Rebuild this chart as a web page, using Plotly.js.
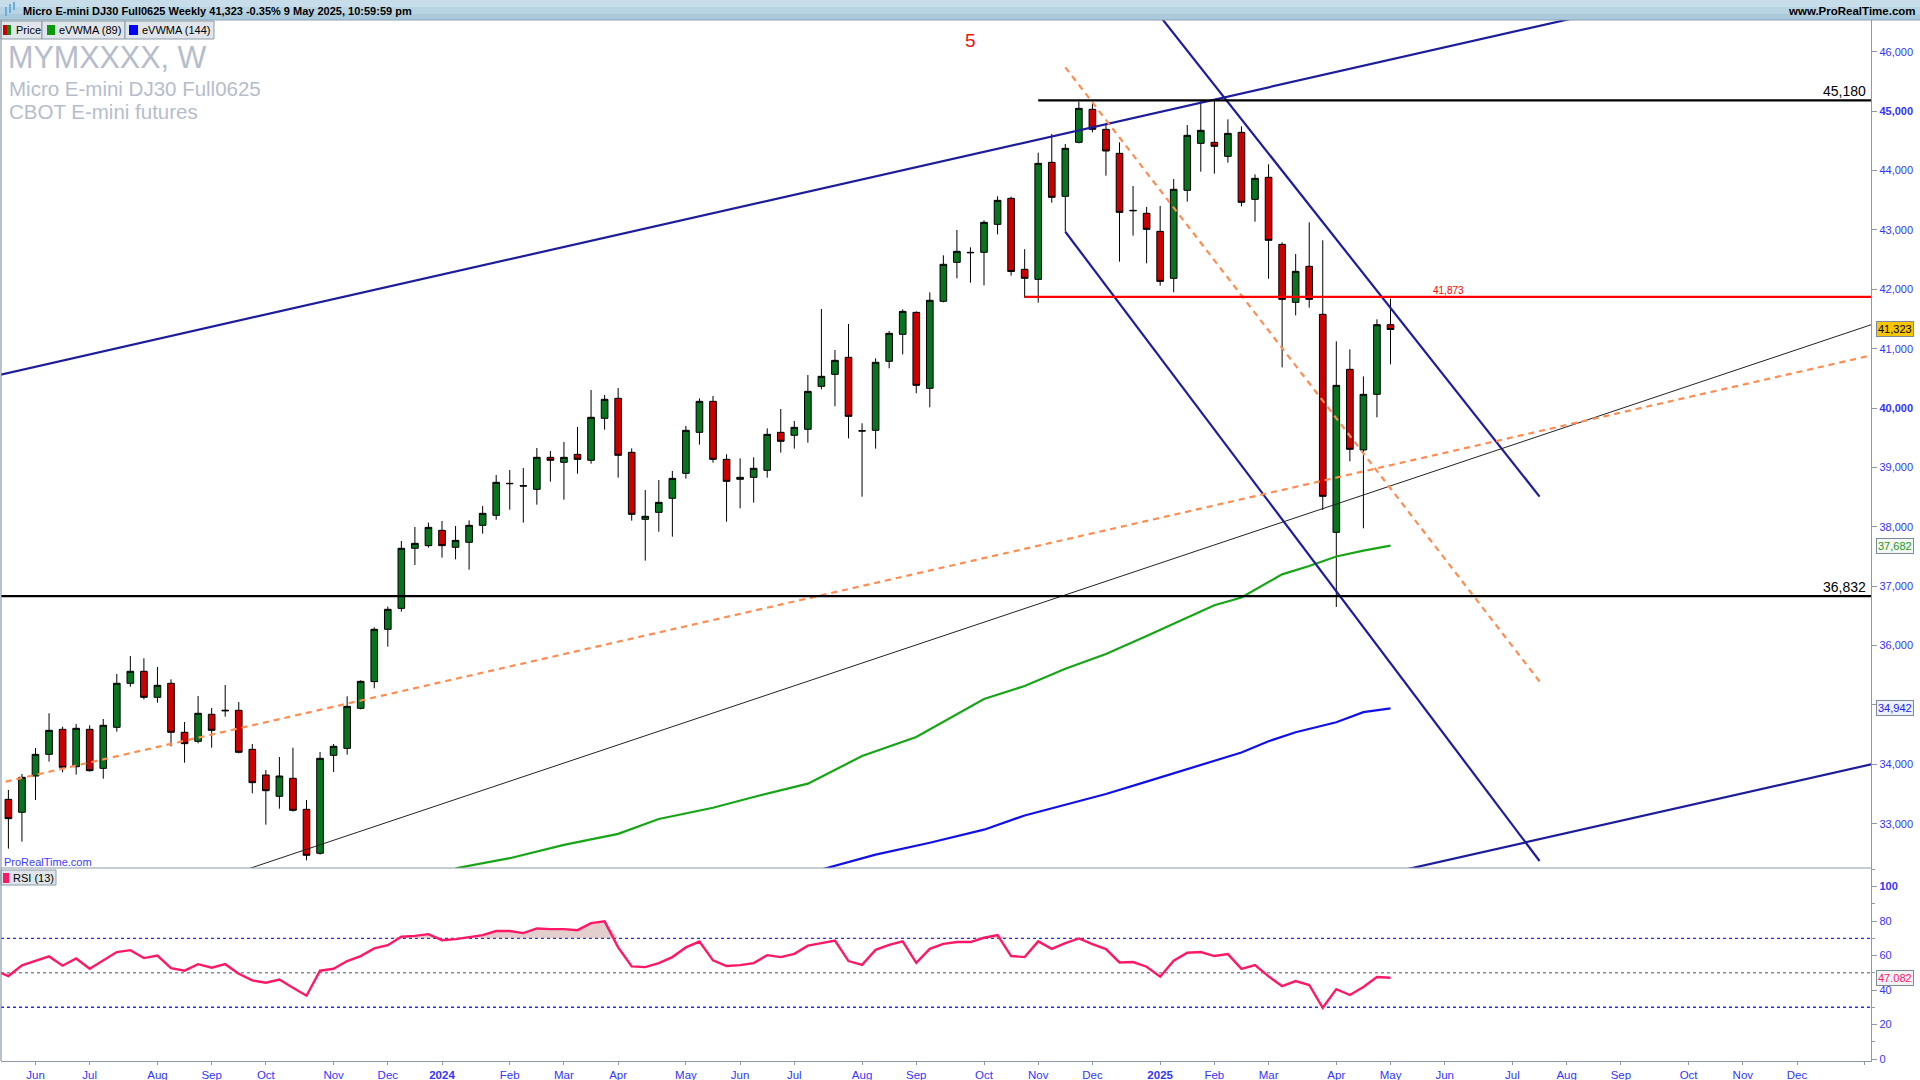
<!DOCTYPE html>
<html><head><meta charset="utf-8">
<script src="https://cdn.plot.ly/plotly-3.0.1.min.js"></script>
<style>html,body{margin:0;padding:0;background:#fff;}#chart{width:1920px;height:1080px;}</style>
</head><body><div id="chart"></div>
<script>
// ---------- DATA ----------
const weeks = ['2023-05-22','2023-05-29','2023-06-05','2023-06-12','2023-06-19','2023-06-26','2023-07-03','2023-07-10','2023-07-17','2023-07-24','2023-07-31','2023-08-07','2023-08-14','2023-08-21','2023-08-28','2023-09-04','2023-09-11','2023-09-18','2023-09-25','2023-10-02','2023-10-09','2023-10-16','2023-10-23','2023-10-30','2023-11-06','2023-11-13','2023-11-20','2023-11-27','2023-12-04','2023-12-11','2023-12-18','2023-12-25','2024-01-01','2024-01-08','2024-01-15','2024-01-22','2024-01-29','2024-02-05','2024-02-12','2024-02-19','2024-02-26','2024-03-04','2024-03-11','2024-03-18','2024-03-25','2024-04-01','2024-04-08','2024-04-15','2024-04-22','2024-04-29','2024-05-06','2024-05-13','2024-05-20','2024-05-27','2024-06-03','2024-06-10','2024-06-17','2024-06-24','2024-07-01','2024-07-08','2024-07-15','2024-07-22','2024-07-29','2024-08-05','2024-08-12','2024-08-19','2024-08-26','2024-09-02','2024-09-09','2024-09-16','2024-09-23','2024-09-30','2024-10-07','2024-10-14','2024-10-21','2024-10-28','2024-11-04','2024-11-11','2024-11-18','2024-11-25','2024-12-02','2024-12-09','2024-12-16','2024-12-23','2024-12-30','2025-01-06','2025-01-13','2025-01-20','2025-01-27','2025-02-03','2025-02-10','2025-02-17','2025-02-24','2025-03-03','2025-03-10','2025-03-17','2025-03-24','2025-03-31','2025-04-07','2025-04-14','2025-04-21','2025-04-28','2025-05-05'];

const open = [33411,33193,33804,34169,34590,33961,34590,33933,34624,35365,
35567,35129,35365,34540,34388,34843,34900,34910,34253,33821,
33462,33765,33243,32503,34152,34270,34944,35393,36274,36627,
37638,37683,37941,37655,37739,38025,38193,38732,38693,38631,
39170,39086,39220,39120,39827,40163,39254,38126,38244,38480,
38900,39591,40113,39136,38800,38833,38951,39591,39541,39642,
40365,40567,40854,39619,39625,40787,41241,41611,40332,41797,
42453,42622,42622,43093,43531,42336,42167,44137,43565,44474,
45030,44693,44289,43329,43279,42975,42184,43666,44457,44474,
44238,44642,43514,43885,42756,41780,42386,41578,37907,40652,
39294,40231,41404];
const high = [33569,33838,34276,34860,34635,34680,34658,34764,35522,35825,
35786,35640,35432,34714,35151,34949,35337,35050,34343,33905,
34124,34281,33400,34208,34343,35146,35415,36307,36656,37761,
37997,38070,38098,38014,38109,38350,38872,38957,38990,39327,
39277,39428,39681,40304,40220,40337,39321,38620,38788,38940,
39698,40163,40203,39221,39153,39170,39658,39984,39782,40556,
41668,40977,41415,39743,40837,41297,41662,41628,41948,42571,
42998,42706,43161,43565,43559,42675,44300,44614,44446,45159,
45119,44794,44474,43739,43385,43402,43857,44766,45180,45175,
44861,44743,43935,44104,42790,42594,43127,42824,41123,40988,
40534,41494,41842];
const low = [32581,32699,33400,34046,33866,33827,33877,33759,34551,35308,
35095,35039,34303,34029,34354,34281,34803,34186,33513,32985,
33254,33204,32384,32480,33872,34164,34927,35281,35982,36571,
37357,37649,37481,37453,37279,37885,38120,38289,38070,38373,
38760,38457,38895,39063,39636,38828,38104,37430,37918,37834,
38811,39383,39080,38087,38311,38407,38828,39249,39316,39417,
40315,40029,39490,38508,39316,40669,40904,40248,40012,41780,
42184,42111,42066,42925,42229,41858,41774,43458,42970,44457,
44642,43913,42465,42902,42437,42060,41948,43475,43980,43946,
44132,43396,43138,42178,40685,41561,41690,38283,36650,39103,
37975,39844,40736];
const close = [33086,33782,34169,34573,33950,34607,33894,34658,35365,35567,
35129,35331,34540,34349,34860,34573,34910,34203,33692,33557,
33804,33226,32469,34102,34304,34977,35398,36274,36611,37638,
37722,37991,37683,37772,38025,38227,38749,38727,38687,39170,
39120,39170,39136,39844,40147,39204,38210,38177,38412,38816,
39625,40113,39136,38766,38833,38985,39557,39440,39675,40281,
40534,40803,39860,39613,40770,41258,41628,40382,41814,42420,
42639,42616,43127,43497,42299,42184,44120,43548,44373,45046,
44693,44328,43295,43323,43009,42133,43683,44592,44676,44407,
44625,43464,43868,42824,41830,42302,41830,38513,40382,39305,
40231,41404,41323];

const rsiWeeks = ['2023-05-15'].concat(weeks);
const rsi = [51.4,48.1,54.3,56.8,59.5,54.1,58.3,52.3,57.1,62.0,
63.1,58.5,60.0,52.7,51.2,55.0,52.9,55.0,49.4,45.6,
44.2,46.1,41.3,36.7,51.2,52.3,56.8,59.7,64.1,66.0,
70.9,71.4,72.4,68.9,69.5,70.7,71.8,74.2,74.2,73.0,
75.7,75.3,75.3,74.7,78.8,79.8,64.7,53.7,53.3,55.6,
59.1,64.7,68.1,57.2,53.9,54.4,55.6,60.2,59.1,61.0,
65.7,67.2,68.7,56.8,54.6,63.3,66.2,68.2,55.8,63.9,
66.8,67.8,67.8,70.3,71.8,59.7,59.1,68.2,63.9,67.2,
69.9,66.6,63.7,56.0,56.2,53.5,47.7,57.0,61.6,62.0,
59.7,60.8,52.3,54.4,47.9,42.3,45.2,42.9,29.7,40.5,
37.1,41.7,47.5,47.082];

const evwma89Dates = ['2024-01-08','2024-02-05','2024-03-04','2024-04-01','2024-04-22','2024-05-20','2024-06-10','2024-07-08','2024-08-05','2024-09-02','2024-10-07','2024-10-28','2024-11-18','2024-12-09','2024-12-30','2025-02-03','2025-02-17','2025-03-10','2025-03-24','2025-04-07','2025-04-21','2025-05-05'];
const evwma89 = [32250,32420,32645,32830,33080,33270,33450,33675,34140,34460,35100,35320,35610,35860,36160,36680,36810,37200,37340,37500,37600,37682];

const evwma144Dates = ['2024-07-15','2024-08-12','2024-09-09','2024-10-07','2024-10-28','2024-11-18','2024-12-09','2024-12-30','2025-01-27','2025-02-17','2025-03-03','2025-03-17','2025-04-07','2025-04-21','2025-05-05'];
const evwma144 = [32230,32480,32680,32900,33140,33320,33500,33710,33990,34200,34390,34540,34710,34880,34942];

// drawn trend lines: endpoints [date, price]
const channelTopX = ['2023-05-15','2026-02-09'], channelTopY = [40541,47934];
const channelBotX = ['2025-05-05','2026-02-09'], channelBotY = [32172,34236];
const downUpperX = ['2024-12-30','2025-07-21'], downUpperY = [46884,38509];
const downLowerX = ['2024-11-18','2025-07-21'], downLowerY = [42969,32373];
const orangeUpX = ['2023-05-15','2026-02-09'], orangeUpY = [33667,41123];
const orangeDownX = ['2024-11-18','2025-07-21'], orangeDownY = [45737,35396];
const blackUpX = ['2023-09-11','2026-02-09'], blackUpY = [32110,41749];

const levels = [45180, 41873, 36832];
const levelStart = ['2024-11-04','2024-10-28','2023-05-15'];

const monthTickVals = ['2023-06-05','2023-07-03','2023-08-07','2023-09-04','2023-10-02','2023-11-06','2023-12-04','2024-01-01','2024-02-05','2024-03-04','2024-04-01','2024-05-06','2024-06-03','2024-07-01','2024-08-05','2024-09-02','2024-10-07','2024-11-04','2024-12-02','2025-01-06','2025-02-03','2025-03-03','2025-04-07','2025-05-05','2025-06-02','2025-07-07','2025-08-04','2025-09-01','2025-10-06','2025-11-03','2025-12-01','2026-01-05'];
const monthTickText = ['Jun','Jul','Aug','Sep','Oct','Nov','Dec','<b>2024</b>','Feb','Mar','Apr','May','Jun','Jul','Aug','Sep','Oct','Nov','Dec','<b>2025</b>','Feb','Mar','Apr','May','Jun','Jul','Aug','Sep','Oct','Nov','Dec',''];

const priceTicks = [33000,34000,35000,36000,37000,38000,39000,40000,41000,42000,43000,44000,45000,46000];
const priceBold = [40000,45000];
const rsiTicks = [0,20,40,60,80,100];

// ---------- LAYOUT HELPERS ----------
const PX = x => (x - 1) / 1870;
const PY = y => (1061 - y) / 1041;
const split = (1061 - 868) / 1041;
const FONT = 'Arial, "Liberation Sans", sans-serif';
const fmt = v => v.toLocaleString('en-US');

const traces = [];
traces.push({type:'candlestick', x:weeks, open:open, high:high, low:low, close:close,
  xaxis:'x', yaxis:'y', hoverinfo:'skip', whiskerwidth:0,
  increasing:{fillcolor:'#08741f', line:{color:'#000', width:1}},
  decreasing:{fillcolor:'#cc0000', line:{color:'#000', width:1}}});

function line(x, y, color, width, dash, ax) {
  traces.push({type:'scatter', mode:'lines', x:x, y:y, xaxis:'x', yaxis:ax||'y',
    line:{color:color, width:width, dash:dash||'solid'}, hoverinfo:'skip'});
}
line(evwma144Dates, evwma144, '#1010e8', 2.2);
line(evwma89Dates, evwma89, '#17a517', 2.2);
line(channelTopX, channelTopY, '#1c1c9c', 2.2);
line(channelBotX, channelBotY, '#1c1c9c', 2.2);
line(downUpperX, downUpperY, '#1c1c9c', 2.2);
line(downLowerX, downLowerY, '#1c1c9c', 2.2);
line(blackUpX, blackUpY, '#222', 1);
line(orangeUpX, orangeUpY, '#ff8c50', 2.2, '6px,5px');
line(orangeDownX, orangeDownY, '#ff8c50', 2.2, '6px,5px');
const levelColors = ['#000','#ff0000','#000'];
levels.forEach((v,i) => line([levelStart[i],'2026-03-01'], [v,v], levelColors[i], 2.2));

// RSI
traces.push({type:'scatter', mode:'lines', x:rsiWeeks, y:rsi.map(()=>70), xaxis:'x', yaxis:'y2', line:{width:0}, hoverinfo:'skip'});
traces.push({type:'scatter', mode:'lines', x:rsiWeeks, y:rsi.map(v=>Math.max(v,70)), xaxis:'x', yaxis:'y2', line:{width:0}, fill:'tonexty', fillcolor:'rgba(185,130,130,0.38)', hoverinfo:'skip'});
traces.push({type:'scatter', mode:'lines', x:rsiWeeks, y:rsi, xaxis:'x', yaxis:'y2', line:{color:'#ff1866', width:2.4}, hoverinfo:'skip'});

const shapes = [];
function rect(x0,y0,x1,y1,fill,lineColor){
  shapes.push({type:'rect', xref:'paper', yref:'paper', x0:PX(x0), x1:PX(x1), y0:PY(y1), y1:PY(y0),
    fillcolor:fill, line:{color:lineColor||fill, width:lineColor?1:0}, layer:'above'});
}
// header bar
rect(0,0,1920,7,'#c7dde9');
rect(0,7,1920,14,'#b8d3e2');
rect(0,14,1920,20,'#aac9db');
shapes.push({type:'line', xref:'paper', yref:'paper', x0:PX(0), x1:PX(1920), y0:PY(20), y1:PY(20), line:{color:'#8aa2b2', width:1}, layer:'above'});
// header icon
rect(5,7,7,16,'#6aaedc'); rect(9,4,11,13,'#6aaedc'); rect(13,2,15,10,'#6aaedc');
// legend boxes
rect(1,21,42,39,'#dfe5ea','#8d9ba7');
rect(42,21,125,39,'#dfe5ea','#8d9ba7');
rect(125,21,214,39,'#dfe5ea','#8d9ba7');
rect(3,25,7,35,'#cc0000'); rect(7,25,11,35,'#0a8a1a');
rect(47,25,55,35,'#0a9a0a');
rect(129,25,138,35,'#0000ff');
// RSI legend
rect(1,870,56,885,'#dfe5ea','#8d9ba7');
rect(3,873,9,883,'#ff1866');
// panel separators / borders
shapes.push({type:'line', xref:'paper', yref:'paper', x0:0, x1:1, y0:split, y1:split, line:{color:'#8c9aa6', width:1.2}, layer:'above'});
shapes.push({type:'line', xref:'paper', yref:'paper', x0:0, x1:0, y0:0, y1:1, line:{color:'#8c9aa6', width:1.2}, layer:'above'});
// RSI levels
[[70,'#2a2ae6'],[50,'#8c8c8c'],[30,'#2a2ae6']].forEach(([v,c]) =>
  shapes.push({type:'line', xref:'paper', yref:'y2', x0:0, x1:1, y0:v, y1:v, line:{color:c, width:1.3, dash:'3px,3px'}, layer:'below'}));

const ann = [];
function txt(x, y, text, size, color, opts) {
  ann.push(Object.assign({xref:'paper', yref:'paper', x:PX(x), y:PY(y), text:text, showarrow:false,
    xanchor:'left', yanchor:'middle', font:{family:FONT, size:size, color:color}}, opts||{}));
}
txt(21, 11, '<b>Micro E-mini DJ30 Full0625 Weekly 41,323 -0.35% 9 May 2025, 10:59:59 pm</b>', 11, '#000');
txt(1918, 11, '<b>www.ProRealTime.com</b>', 11.5, '#000', {xanchor:'right'});
txt(14, 30, 'Price', 11, '#000');
txt(57, 30, 'eVWMA (89)', 11, '#000');
txt(140, 30, 'eVWMA (144)', 11, '#000');
txt(11, 878, 'RSI (13)', 11, '#000');
txt(6, 57.5, 'MYMXXXX, W', 30.5, '#b5bdcc');
txt(7, 88, 'Micro E-mini DJ30 Full0625', 20.5, '#b5bdcc');
txt(7, 112, 'CBOT E-mini futures', 20.5, '#b5bdcc');
txt(2, 862, 'ProRealTime.com', 11, '#3c3cff');
// level labels
ann.push({xref:'paper', yref:'y', x:PX(1868), y:levels[0], text:fmt(levels[0]), xanchor:'right', yanchor:'bottom', showarrow:false, font:{family:FONT, size:14, color:'#000'}, yshift:-1});
ann.push({xref:'paper', yref:'y', x:PX(1868), y:levels[2], text:fmt(levels[2]), xanchor:'right', yanchor:'bottom', showarrow:false, font:{family:FONT, size:14, color:'#000'}, yshift:-1});
ann.push({xref:'paper', yref:'y', x:PX(1448), y:levels[1], text:fmt(levels[1]), xanchor:'center', yanchor:'bottom', showarrow:false, font:{family:FONT, size:10, color:'#ff0000'}, yshift:-1});
// wave label
ann.push({xref:'x', yref:'y', x:'2024-09-30', y:46190, text:'5', showarrow:false, xanchor:'center', yanchor:'middle', font:{family:FONT, size:19, color:'#ee1111'}});
// axis value boxes
function box(yref, y, text, color, bg) {
  ann.push({xref:'paper', yref:yref, x:PX(1876), y:y, text:text, xanchor:'left', yanchor:'middle', showarrow:false,
    bgcolor:bg, bordercolor:'#7d8b97', borderwidth:1, borderpad:1, font:{family:FONT, size:11, color:color}});
}
box('y', close[close.length-1], fmt(close[close.length-1]), '#000', '#f7c600');
box('y', evwma89[evwma89.length-1], fmt(evwma89[evwma89.length-1]), '#1a9a1a', '#f3f6f3');
box('y', evwma144[evwma144.length-1], fmt(evwma144[evwma144.length-1]), '#2020ff', '#eef0f8');
box('y2', rsi[rsi.length-1], rsi[rsi.length-1].toFixed(3), '#ff1866', '#f2f2f2');

const axisCol = '#8c9aa6';
const tickBlue = '#3434ff';
const layout = {
  width:1920, height:1080,
  margin:{l:1, r:49, t:20, b:19, pad:0},
  paper_bgcolor:'#fff', plot_bgcolor:'#fff',
  showlegend:false, hovermode:false, dragmode:false,
  xaxis:{type:'date', range:['2023-05-18 04:16','2026-01-08 05:17'], anchor:'y2',
    showgrid:false, zeroline:false, showline:true, linecolor:axisCol, linewidth:1.2,
    ticks:'outside', ticklen:3, tickcolor:axisCol, tickmode:'array',
    tickvals:monthTickVals, ticktext:monthTickText,
    tickfont:{family:FONT, size:11.5, color:tickBlue}, rangeslider:{visible:false}, fixedrange:true},
  yaxis:{domain:[split,1], range:[32255,46534], side:'right', anchor:'x',
    showgrid:false, zeroline:false, showline:true, linecolor:axisCol, linewidth:1.2,
    ticks:'outside', ticklen:5, tickcolor:axisCol, tickmode:'array',
    tickvals:priceTicks, ticktext:priceTicks.map(v => priceBold.includes(v) ? '<b>'+fmt(v)+'</b>' : fmt(v)),
    tickfont:{family:FONT, size:11, color:tickBlue}, fixedrange:true},
  yaxis2:{domain:[0,split], range:[-1.16,110.75], side:'right', anchor:'x',
    showgrid:false, zeroline:false, showline:true, linecolor:axisCol, linewidth:1.2,
    ticks:'outside', ticklen:5, tickcolor:axisCol, tickmode:'array',
    tickvals:rsiTicks, ticktext:rsiTicks.map(v => v===100 ? '<b>100</b>' : String(v)),
    tickfont:{family:FONT, size:11, color:tickBlue},
    minor:{tickmode:'linear', tick0:0, dtick:10, ticks:'outside', ticklen:3, tickcolor:axisCol, showgrid:false},
    fixedrange:true},
  shapes:shapes, annotations:ann
};
Plotly.newPlot('chart', traces, layout, {displayModeBar:false, staticPlot:true});
</script>
</body></html>
